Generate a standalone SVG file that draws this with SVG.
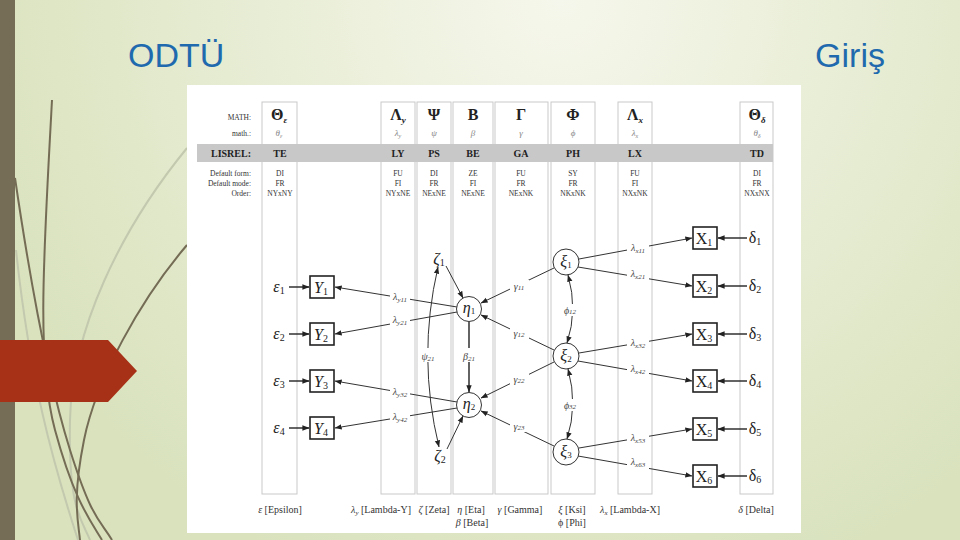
<svg xmlns="http://www.w3.org/2000/svg" width="960" height="540" viewBox="0 0 960 540">
<defs>
<radialGradient id="bg" cx="560" cy="0" r="620" gradientUnits="userSpaceOnUse">
<stop offset="0" stop-color="#f6f7ec"/>
<stop offset="0.55" stop-color="#e6ecd2"/>
<stop offset="1" stop-color="#d9e2bd"/>
</radialGradient>
<marker id="ah" viewBox="0 0 10 10" refX="9.5" refY="5" markerWidth="7" markerHeight="7" orient="auto-start-reverse" markerUnits="userSpaceOnUse">
<path d="M0,1.2 L10,5 L0,8.8 z" fill="#222"/>
</marker>
<style>
.col{fill:none;stroke:#c9c9c9;stroke-width:1}
.big{font-family:"Liberation Serif",serif;font-size:16px;font-weight:bold;fill:#222;text-anchor:middle}
.sm{font-family:"Liberation Serif",serif;font-size:9px;fill:#888;font-style:italic;text-anchor:middle}
.lis{font-family:"Liberation Serif",serif;font-weight:bold;font-size:10px;fill:#222;text-anchor:middle}
.lisl{font-family:"Liberation Serif",serif;font-weight:bold;font-size:10px;fill:#222;text-anchor:end}
.def{font-family:"Liberation Serif",serif;font-size:7.5px;fill:#333;text-anchor:middle}
.rowl{font-family:"Liberation Serif",serif;font-size:7.5px;fill:#333;text-anchor:end}
.box{fill:#fff;stroke:#222;stroke-width:1.6}
.circ{fill:#fff;stroke:#333;stroke-width:1}
.node{font-family:"Liberation Serif",serif;font-style:italic;font-size:16px;fill:#222;text-anchor:middle}
.edge{stroke:#333;stroke-width:1;fill:none}
.thick{stroke:#222;stroke-width:1.4;fill:none}
.lab{font-family:"Liberation Serif",serif;font-style:italic;font-size:10px;fill:#444;text-anchor:middle}
.leg{font-family:"Liberation Serif",serif;font-size:10px;fill:#333;text-anchor:middle}
.lb{fill:#fff}
.deco{fill:none;stroke:#756c55;stroke-width:2}
.decol{fill:none;stroke:#c3c9ae;stroke-width:2}
.title{font-family:"Liberation Sans",Arial,sans-serif;font-size:34px;fill:#1f6aae}
</style>
</defs>

<!-- slide background -->
<rect x="0" y="0" width="960" height="540" fill="url(#bg)"/>
<g id="decor">
<rect x="0" y="0" width="15" height="540" fill="#766d56"/>
<path class="decol" d="M187 148 C120 230 72 330 70 420 S 82 520 90 540"/>
<path class="decol" d="M16 250 C30 380 52 460 78 540"/>
<path class="deco" d="M52 100 C44 250 36 360 55 430 S 90 520 102 540"/>
<path class="deco" d="M15 178 C30 280 48 380 70 450 S 100 520 112 540"/>
<path class="deco" d="M187 245 C140 300 96 380 84 440 S 78 520 80 540"/>
<polygon points="0,340 108,340 137,371 108,402 0,402" fill="#a63116"/>
</g>
<text class="title" x="128" y="67">ODTÜ</text>
<text class="title" x="885" y="67" text-anchor="end" style="text-anchor:end">Giriş</text>

<!-- embedded figure -->
<rect x="187" y="85" width="614" height="448" fill="#fff"/>

<g id="columns">
<rect class="col" x="262" y="102" width="35" height="392"/>
<rect class="col" x="381" y="102" width="34" height="392"/>
<rect class="col" x="417" y="102" width="34" height="392"/>
<rect class="col" x="453" y="102" width="40" height="392"/>
<rect class="col" x="495" y="102" width="53" height="392"/>
<rect class="col" x="551" y="102" width="44" height="392"/>
<rect class="col" x="618" y="102" width="34" height="392"/>
<rect class="col" x="740" y="102" width="33" height="392"/>
</g>
<rect x="197" y="144" width="576" height="18" fill="#c8c8c8"/>

<g id="table">
<text class="rowl" x="251" y="120" font-size="6.5">MATH:</text>
<text class="rowl" x="251" y="136" font-size="6.5">math.:</text>
<text class="lisl" x="251" y="157">LISREL:</text>
<text class="rowl" x="251" y="176">Default form:</text>
<text class="rowl" x="251" y="186">Default mode:</text>
<text class="rowl" x="251" y="196">Order:</text>

<text class="big" x="279" y="120">Θ<tspan font-size="9" font-style="italic" dy="3">ε</tspan></text>
<text class="big" x="398" y="120">Λ<tspan font-size="9" font-style="italic" dy="3">y</tspan></text>
<text class="big" x="434" y="120">Ψ</text>
<text class="big" x="473" y="120">B</text>
<text class="big" x="521" y="120">Γ</text>
<text class="big" x="573" y="120">Φ</text>
<text class="big" x="635" y="120">Λ<tspan font-size="9" font-style="italic" dy="3">x</tspan></text>
<text class="big" x="757" y="120">Θ<tspan font-size="9" font-style="italic" dy="3">δ</tspan></text>

<text class="sm" x="279" y="136">θ<tspan font-size="6" dy="2">ε</tspan></text>
<text class="sm" x="398" y="136">λ<tspan font-size="6" dy="2">y</tspan></text>
<text class="sm" x="434" y="136">ψ</text>
<text class="sm" x="473" y="136">β</text>
<text class="sm" x="521" y="136">γ</text>
<text class="sm" x="573" y="136">ϕ</text>
<text class="sm" x="635" y="136">λ<tspan font-size="6" dy="2">x</tspan></text>
<text class="sm" x="757" y="136">θ<tspan font-size="6" dy="2">δ</tspan></text>

<text class="lis" x="280" y="157">TE</text>
<text class="lis" x="398" y="157">LY</text>
<text class="lis" x="434" y="157">PS</text>
<text class="lis" x="473" y="157">BE</text>
<text class="lis" x="521" y="157">GA</text>
<text class="lis" x="573" y="157">PH</text>
<text class="lis" x="635" y="157">LX</text>
<text class="lis" x="757" y="157">TD</text>

<text class="def" x="280" y="176">DI</text><text class="def" x="280" y="186">FR</text><text class="def" x="280" y="196">NYxNY</text>
<text class="def" x="398" y="176">FU</text><text class="def" x="398" y="186">FI</text><text class="def" x="398" y="196">NYxNE</text>
<text class="def" x="434" y="176">DI</text><text class="def" x="434" y="186">FR</text><text class="def" x="434" y="196">NExNE</text>
<text class="def" x="473" y="176">ZE</text><text class="def" x="473" y="186">FI</text><text class="def" x="473" y="196">NExNE</text>
<text class="def" x="521" y="176">FU</text><text class="def" x="521" y="186">FR</text><text class="def" x="521" y="196">NExNK</text>
<text class="def" x="573" y="176">SY</text><text class="def" x="573" y="186">FR</text><text class="def" x="573" y="196">NKxNK</text>
<text class="def" x="635" y="176">FU</text><text class="def" x="635" y="186">FI</text><text class="def" x="635" y="196">NXxNK</text>
<text class="def" x="757" y="176">DI</text><text class="def" x="757" y="186">FR</text><text class="def" x="757" y="196">NXxNX</text>
</g>

<g id="connectors">
<line class="thick" x1="289" y1="287" x2="309" y2="287" marker-end="url(#ah)"/>
<line class="thick" x1="289" y1="334" x2="309" y2="334" marker-end="url(#ah)"/>
<line class="thick" x1="289" y1="381" x2="309" y2="381" marker-end="url(#ah)"/>
<line class="thick" x1="289" y1="428" x2="309" y2="428" marker-end="url(#ah)"/>
<line class="thick" x1="747" y1="238" x2="718" y2="238" marker-end="url(#ah)"/>
<line class="thick" x1="747" y1="286" x2="718" y2="286" marker-end="url(#ah)"/>
<line class="thick" x1="747" y1="334" x2="718" y2="334" marker-end="url(#ah)"/>
<line class="thick" x1="747" y1="381" x2="718" y2="381" marker-end="url(#ah)"/>
<line class="thick" x1="747" y1="429" x2="718" y2="429" marker-end="url(#ah)"/>
<line class="thick" x1="747" y1="476" x2="718" y2="476" marker-end="url(#ah)"/>
<line class="edge" x1="457" y1="307" x2="335" y2="287" marker-end="url(#ah)"/>
<line class="edge" x1="457" y1="312" x2="335" y2="334" marker-end="url(#ah)"/>
<line class="edge" x1="457" y1="402" x2="335" y2="381" marker-end="url(#ah)"/>
<line class="edge" x1="457" y1="408" x2="335" y2="428" marker-end="url(#ah)"/>
<line class="edge" x1="446" y1="266" x2="463" y2="298" marker-end="url(#ah)"/>
<line class="edge" x1="447" y1="449" x2="463" y2="416" marker-end="url(#ah)"/>
<path class="edge" d="M438 267 Q417 357 439 447" marker-start="url(#ah)" marker-end="url(#ah)"/>
<line class="thick" x1="469" y1="322" x2="469" y2="392" marker-end="url(#ah)"/>
<line class="edge" x1="554" y1="268" x2="481" y2="303" marker-end="url(#ah)"/>
<line class="edge" x1="554" y1="350" x2="481" y2="315" marker-end="url(#ah)"/>
<line class="edge" x1="554" y1="362" x2="481" y2="398" marker-end="url(#ah)"/>
<line class="edge" x1="554" y1="446" x2="481" y2="411" marker-end="url(#ah)"/>
<path class="edge" d="M568 275 Q578 310 567 343" marker-start="url(#ah)" marker-end="url(#ah)"/>
<path class="edge" d="M568 369 Q578 405 567 439" marker-start="url(#ah)" marker-end="url(#ah)"/>
<line class="edge" x1="579" y1="259" x2="692" y2="238" marker-end="url(#ah)"/>
<line class="edge" x1="578" y1="267" x2="692" y2="286" marker-end="url(#ah)"/>
<line class="edge" x1="579" y1="353" x2="692" y2="334" marker-end="url(#ah)"/>
<line class="edge" x1="578" y1="361" x2="692" y2="381" marker-end="url(#ah)"/>
<line class="edge" x1="579" y1="448" x2="692" y2="429" marker-end="url(#ah)"/>
<line class="edge" x1="578" y1="456" x2="692" y2="476" marker-end="url(#ah)"/>
</g>

<g id="edge-labels">
<rect class="lb" x="390" y="291" width="20" height="13"/>
<text class="lab" x="400" y="300">λ<tspan font-size="7" dy="2">y11</tspan></text>
<rect class="lb" x="390" y="315" width="20" height="13"/>
<text class="lab" x="400" y="323">λ<tspan font-size="7" dy="2">y21</tspan></text>
<rect class="lb" x="390" y="386" width="20" height="13"/>
<text class="lab" x="400" y="395">λ<tspan font-size="7" dy="2">y32</tspan></text>
<rect class="lb" x="390" y="411" width="20" height="13"/>
<text class="lab" x="400" y="420">λ<tspan font-size="7" dy="2">y42</tspan></text>

<rect class="lb" x="418" y="348" width="20" height="14"/>
<text class="lab" x="428" y="360">ψ<tspan font-size="7" dy="1">21</tspan></text>
<rect class="lb" x="460" y="348" width="18" height="14"/>
<text class="lab" x="469" y="360">β<tspan font-size="7" dy="1">21</tspan></text>

<rect class="lb" x="510" y="280" width="19" height="12"/>
<text class="lab" x="519" y="290">γ<tspan font-size="7">11</tspan></text>
<rect class="lb" x="510" y="327" width="19" height="12"/>
<text class="lab" x="519" y="337">γ<tspan font-size="7">12</tspan></text>
<rect class="lb" x="510" y="373" width="19" height="12"/>
<text class="lab" x="519" y="383">γ<tspan font-size="7">22</tspan></text>
<rect class="lb" x="510" y="420" width="19" height="12"/>
<text class="lab" x="519" y="430">γ<tspan font-size="7">23</tspan></text>

<rect class="lb" x="562" y="304" width="16" height="12"/>
<text class="lab" x="570" y="314">ϕ<tspan font-size="7">12</tspan></text>
<rect class="lb" x="562" y="399" width="16" height="12"/>
<text class="lab" x="570" y="409">ϕ<tspan font-size="7">32</tspan></text>

<rect class="lb" x="627" y="242" width="22" height="13"/>
<text class="lab" x="638" y="251">λ<tspan font-size="7" dy="2">x11</tspan></text>
<rect class="lb" x="627" y="268" width="22" height="13"/>
<text class="lab" x="638" y="277">λ<tspan font-size="7" dy="2">x21</tspan></text>
<rect class="lb" x="627" y="337" width="22" height="13"/>
<text class="lab" x="638" y="346">λ<tspan font-size="7" dy="2">x32</tspan></text>
<rect class="lb" x="627" y="363" width="22" height="13"/>
<text class="lab" x="638" y="372">λ<tspan font-size="7" dy="2">x42</tspan></text>
<rect class="lb" x="627" y="432" width="22" height="13"/>
<text class="lab" x="638" y="441">λ<tspan font-size="7" dy="2">x53</tspan></text>
<rect class="lb" x="627" y="456" width="22" height="13"/>
<text class="lab" x="638" y="465">λ<tspan font-size="7" dy="2">x63</tspan></text>
</g>

<g id="eps1"><text class="node" x="279" y="292">ε<tspan font-size="10" font-style="normal" dy="2">1</tspan></text></g>
<g id="eps2"><text class="node" x="279" y="339">ε<tspan font-size="10" font-style="normal" dy="2">2</tspan></text></g>
<g id="eps3"><text class="node" x="279" y="386">ε<tspan font-size="10" font-style="normal" dy="2">3</tspan></text></g>
<g id="eps4"><text class="node" x="279" y="433">ε<tspan font-size="10" font-style="normal" dy="2">4</tspan></text></g>

<g id="Y1"><rect class="box" x="310" y="276" width="24" height="22"/><text class="node" x="321" y="293">Y<tspan font-size="10" font-style="normal" dy="2">1</tspan></text></g>
<g id="Y2"><rect class="box" x="310" y="323" width="24" height="22"/><text class="node" x="321" y="340">Y<tspan font-size="10" font-style="normal" dy="2">2</tspan></text></g>
<g id="Y3"><rect class="box" x="310" y="370" width="24" height="22"/><text class="node" x="321" y="387">Y<tspan font-size="10" font-style="normal" dy="2">3</tspan></text></g>
<g id="Y4"><rect class="box" x="310" y="417" width="24" height="22"/><text class="node" x="321" y="434">Y<tspan font-size="10" font-style="normal" dy="2">4</tspan></text></g>

<g id="zeta1"><text class="node" x="439" y="264">ζ<tspan font-size="10" font-style="normal" dy="2">1</tspan></text></g>
<g id="zeta2"><text class="node" x="440" y="461">ζ<tspan font-size="10" font-style="normal" dy="2">2</tspan></text></g>

<g id="eta1"><circle class="circ" cx="469" cy="309" r="12.5"/><text class="node" x="469" y="313" font-size="14">η<tspan font-size="9" font-style="normal" dy="1">1</tspan></text></g>
<g id="eta2"><circle class="circ" cx="469" cy="405" r="12.5"/><text class="node" x="469" y="409" font-size="14">η<tspan font-size="9" font-style="normal" dy="1">2</tspan></text></g>

<g id="ksi1"><circle class="circ" cx="566" cy="262" r="13"/><text class="node" x="566" y="267" font-size="14">ξ<tspan font-size="9" font-style="normal" dy="1">1</tspan></text></g>
<g id="ksi2"><circle class="circ" cx="566" cy="356" r="13"/><text class="node" x="566" y="361" font-size="14">ξ<tspan font-size="9" font-style="normal" dy="1">2</tspan></text></g>
<g id="ksi3"><circle class="circ" cx="566" cy="452" r="13"/><text class="node" x="566" y="457" font-size="14">ξ<tspan font-size="9" font-style="normal" dy="1">3</tspan></text></g>

<g id="X1"><rect class="box" x="693" y="227" width="24" height="22"/><text class="node" x="704" y="244" style="font-style:normal">X<tspan font-size="10" dy="2">1</tspan></text></g>
<g id="X2"><rect class="box" x="693" y="275" width="24" height="22"/><text class="node" x="704" y="292" style="font-style:normal">X<tspan font-size="10" dy="2">2</tspan></text></g>
<g id="X3"><rect class="box" x="693" y="323" width="24" height="22"/><text class="node" x="704" y="340" style="font-style:normal">X<tspan font-size="10" dy="2">3</tspan></text></g>
<g id="X4"><rect class="box" x="693" y="370" width="24" height="22"/><text class="node" x="704" y="387" style="font-style:normal">X<tspan font-size="10" dy="2">4</tspan></text></g>
<g id="X5"><rect class="box" x="693" y="418" width="24" height="22"/><text class="node" x="704" y="435" style="font-style:normal">X<tspan font-size="10" dy="2">5</tspan></text></g>
<g id="X6"><rect class="box" x="693" y="465" width="24" height="22"/><text class="node" x="704" y="482" style="font-style:normal">X<tspan font-size="10" dy="2">6</tspan></text></g>

<g id="delta1"><text class="node" x="755" y="243" style="font-style:normal">δ<tspan font-size="10" dy="2">1</tspan></text></g>
<g id="delta2"><text class="node" x="755" y="291" style="font-style:normal">δ<tspan font-size="10" dy="2">2</tspan></text></g>
<g id="delta3"><text class="node" x="755" y="339" style="font-style:normal">δ<tspan font-size="10" dy="2">3</tspan></text></g>
<g id="delta4"><text class="node" x="755" y="386" style="font-style:normal">δ<tspan font-size="10" dy="2">4</tspan></text></g>
<g id="delta5"><text class="node" x="755" y="434" style="font-style:normal">δ<tspan font-size="10" dy="2">5</tspan></text></g>
<g id="delta6"><text class="node" x="755" y="481" style="font-style:normal">δ<tspan font-size="10" dy="2">6</tspan></text></g>

<g id="legend">
<text class="leg" x="280" y="513"><tspan font-style="italic">ε</tspan> [Epsilon]</text>
<text class="leg" x="381" y="513"><tspan font-style="italic">λ<tspan font-size="7" dy="2">y</tspan></tspan><tspan dy="-2"> [Lambda-Y]</tspan></text>
<text class="leg" x="434" y="513"><tspan font-style="italic">ζ</tspan> [Zeta]</text>
<text class="leg" x="471" y="513"><tspan font-style="italic">η</tspan> [Eta]</text>
<text class="leg" x="472" y="526"><tspan font-style="italic">β</tspan> [Beta]</text>
<text class="leg" x="520" y="513"><tspan font-style="italic">γ</tspan> [Gamma]</text>
<text class="leg" x="572" y="513"><tspan font-style="italic">ξ</tspan> [Ksi]</text>
<text class="leg" x="572" y="526">ϕ [Phi]</text>
<text class="leg" x="630" y="513"><tspan font-style="italic">λ<tspan font-size="7" dy="2">x</tspan></tspan><tspan dy="-2"> [Lambda-X]</tspan></text>
<text class="leg" x="756" y="513"><tspan font-style="italic">δ</tspan> [Delta]</text>
</g>
</svg>
